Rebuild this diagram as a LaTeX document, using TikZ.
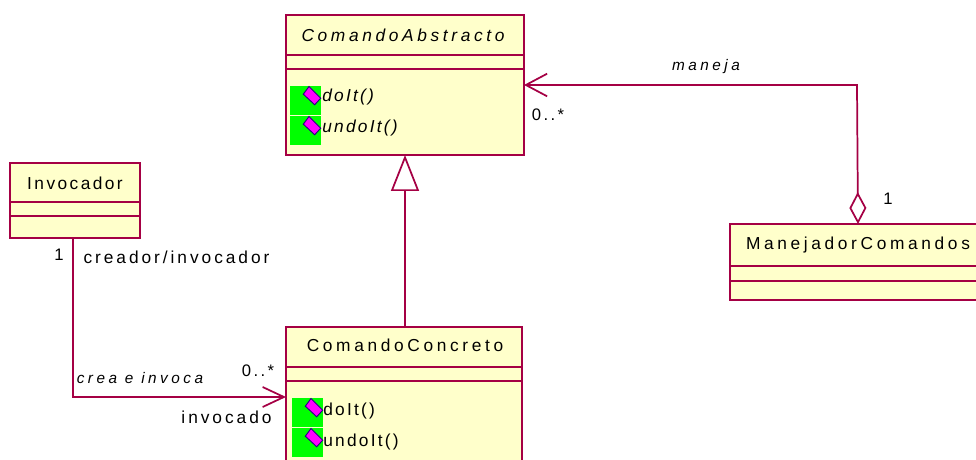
\documentclass[tikz,border=0pt]{standalone}
\usepackage{fontspec}
\setmainfont[LetterSpace=17]{Liberation Sans}
\newfontfamily\titlefont[LetterSpace=21]{Liberation Sans}
\newfontfamily\countfont[LetterSpace=14]{Liberation Sans}
\newfontfamily\rolefont[LetterSpace=23]{Liberation Sans}
\newfontfamily\opfont[LetterSpace=13]{Liberation Sans}
\usetikzlibrary{arrows.meta}

\definecolor{linecol}{RGB}{165,0,68}
\definecolor{boxcol}{RGB}{255,255,203}
\definecolor{iconcol}{RGB}{0,255,0}
\definecolor{gemcol}{RGB}{255,0,255}
\definecolor{gemedge}{RGB}{40,0,130}

\tikzset{
    classbox/.style={draw=linecol,fill=boxcol,line width=1.6pt,inner sep=0pt,outer sep=0pt,anchor=north west},
    divider/.style={draw=linecol,line width=1.2pt},
    link/.style={draw=linecol,line width=1.3pt},
    title/.style={inner sep=0pt,font=\titlefont\fontsize{13}{15}\selectfont},
    label/.style={inner sep=0pt,font=\fontsize{13}{15}\selectfont},
    oplabel/.style={inner sep=0pt,anchor=west,font=\opfont\fontsize{13}{15}\selectfont},
    rolelabel/.style={inner sep=0pt,font=\rolefont\fontsize{11.5}{13}\selectfont\itshape},
    count/.style={inner sep=0pt,font=\countfont\fontsize{12.5}{14}\selectfont},
    opicon/.pic={
        \fill[iconcol] (-22,-10) rectangle (9,19);
        \draw[gemedge,fill=gemcol,line width=0.7pt] (-8.7,-1.8) -- (-3,-9.5) -- (8.7,2.2) -- (2.7,8.8) -- cycle;
    }
}

\begin{document}
\begin{tikzpicture}[x=0.75pt,y=0.75pt,yscale=-1]
    \useasboundingbox (0,0) rectangle (976,460);
    \clip (0,0) rectangle (976,460);

    % Classes
    \node (abstracto) [classbox,minimum width=178.5pt,minimum height=105pt] at (286,15) {};
    \node (invocador) [classbox,minimum width=97.5pt,minimum height=56.25pt] at (10,163) {};
    \node (concreto) [classbox,minimum width=177pt,minimum height=112.5pt] at (286,327) {};
    \node (manejador) [classbox,minimum width=192pt,minimum height=57pt] at (730,224) {};

    % Compartments
    \draw[divider] (286,55) -- (524,55);
    \draw[divider] (286,69) -- (524,69);
    \draw[divider] (10,202) -- (140,202);
    \draw[divider] (10,216) -- (140,216);
    \draw[divider] (286,367) -- (522,367);
    \draw[divider] (286,381) -- (522,381);
    \draw[divider] (730,266) -- (986,266);
    \draw[divider] (730,281) -- (986,281);

    % Operation icons
    \pic[transform shape] at (312,96) {opicon};
    \pic[transform shape] at (312,126) {opicon};
    \pic[transform shape] at (314,408) {opicon};
    \pic[transform shape] at (314,438) {opicon};

    % Connectors
    \coordinate (turnmaneja) at (857,85);
    \coordinate (turncrea) at (73,397);
    \draw[link,{Diamond[open,length=24pt,width=12.75pt]}-{Straight Barb[length=16pt,width=17pt]}]
        (manejador.north) -- (turnmaneja) -- (turnmaneja -| abstracto.east);
    \draw[link,-{Triangle[open,length=27pt,width=21pt]}] (concreto.north -| abstracto.south) -- (abstracto.south);
    \draw[link,-{Straight Barb[length=16pt,width=15pt]}]
        (turncrea |- invocador.south) -- (turncrea) -- (turncrea -| concreto.west);

    % Text Node
    \node (tabstracto) [title,font=\titlefont\fontsize{13}{15}\selectfont\itshape] at (403,35) {ComandoAbstracto};
    \node (tinvocador) [label,font=\countfont\fontsize{13}{15}\selectfont] at (75,183) {Invocador};
    \node (tconcreto) [title] at (405,345) {ComandoConcreto};
    \node (tmanejador) [title] at (858,245) {ManejadorComandos};
    % Text Node
    \node (opdo) [oplabel,font=\opfont\fontsize{13}{15}\selectfont\itshape] at (322,97) {doIt()};
    \node (opundo) [oplabel,font=\opfont\fontsize{13}{15}\selectfont\itshape] at (322,128) {undoIt()};
    \node (opdoc) [oplabel] at (323,411) {doIt()};
    \node (opundoc) [oplabel] at (323,442) {undoIt()};
    % Text Node
    \node (maneja) [rolelabel] at (706,67) {maneja};
    \node (crea) [rolelabel] at (140,378) {crea e invoca};
    \node (creador) [label] at (176.5,257) {creador/invocador};
    \node (invocado) [label] at (226.5,417) {invocado};
    % Text Node
    \node (cuentaa) [count] at (548,115) {0..*};
    \node (cuentab) [count] at (888,199) {1};
    \node (cuentac) [count] at (59,255) {1};
    \node (cuentad) [count] at (258,371) {0..*};
\end{tikzpicture}
\end{document}
